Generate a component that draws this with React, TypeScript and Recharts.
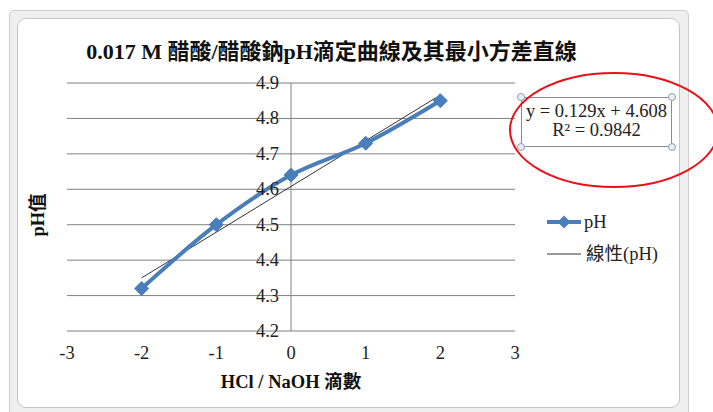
import React from 'react';
import { ComposedChart, Line, XAxis, YAxis, CartesianGrid, ReferenceLine } from 'recharts';

const drops = [-2, -1, 0, 1, 2];
const phValues = [4.32, 4.5, 4.64, 4.73, 4.85];
const trendX = [-2, 2];
const trendY = [4.35, 4.866];
const xTicks = [-3, -2, -1, 0, 1, 2, 3];
const yTicks = [4.2, 4.3, 4.4, 4.5, 4.6, 4.7, 4.8, 4.9];
const titleText = '0.017 M 醋酸/醋酸鈉pH滴定曲線及其最小方差直線';
const xLabel = 'HCl / NaOH 滴數';
const yLabel = 'pH值';
const seriesName = 'pH';
const trendName = '線性(pH)';
const equationLine1 = 'y = 0.129x + 4.608';
const equationLine2 = 'R² = 0.9842';

const phData = drops.map((x, i) => ({ x, y: phValues[i] }));
const trendData = trendX.map((x, i) => ({ x, t: trendY[i] }));

const W = 713;
const H = 412;
const M = { top: 83, right: 198, bottom: 80, left: 66 };
const PLOT_LEFT = 67;
const PLOT_W = 448;
const zeroX = PLOT_LEFT + ((0 - xTicks[0]) / (xTicks[xTicks.length - 1] - xTicks[0])) * PLOT_W;

const FONT = '"Liberation Serif", "Times New Roman", "Noto Sans CJK TC", serif';
const BLUE = '#4A7EBB';

const Diamond = (props: any) => {
  const { cx, cy } = props;
  if (cx == null || cy == null) return null;
  const r = 7;
  return (
    <path
      d={`M${cx},${cy - r}L${cx + r},${cy}L${cx},${cy + r}L${cx - r},${cy}Z`}
      fill={BLUE}
      stroke={BLUE}
      strokeWidth={1}
    />
  );
};

const renderYTick = (props: any) => {
  const { y, payload } = props;
  return (
    <text x={zeroX - 12} y={y} textAnchor="end" dominantBaseline="central" fontSize={18.5} fontFamily={FONT} fill="#222">
      {Number(payload.value).toFixed(1)}
    </text>
  );
};

const renderXTick = (props: any) => {
  const { x, payload } = props;
  return (
    <text x={x} y={353} textAnchor="middle" dominantBaseline="central" fontSize={18.5} fontFamily={FONT} fill="#222">
      {payload.value}
    </text>
  );
};

export default function App() {
  return (
    <div style={{ position: 'fixed', left: 0, top: 0, width: W, height: H, background: '#fff', overflow: 'hidden', fontFamily: FONT }}>
      <div style={{ position: 'absolute', left: 9, top: 10, width: 680, height: 420, background: '#efefef', border: '1px solid #cfcfcf', borderRadius: 5, boxSizing: 'border-box' }} />
      <div style={{ position: 'absolute', left: 17, top: 18, width: 663, height: 390, background: '#fff', border: '1px solid #c4c4c4', borderRadius: 9, boxSizing: 'border-box' }} />
      <div style={{ position: 'absolute', left: 0, top: 40, width: W, textAlign: 'center', paddingRight: 50, boxSizing: 'border-box', fontSize: 22, fontWeight: 'bold', color: '#111', lineHeight: '24px', whiteSpace: 'nowrap' }}>
        {titleText}
      </div>
      <div style={{ position: 'absolute', left: 0, top: 0 }}>
        <ComposedChart width={W} height={H} margin={M}>
          <CartesianGrid vertical={false} stroke="#808080" strokeWidth={1} />
          <XAxis
            type="number"
            dataKey="x"
            domain={[xTicks[0], xTicks[xTicks.length - 1]]}
            ticks={xTicks}
            axisLine={false}
            tickLine={false}
            height={1}
            tick={renderXTick}
            interval={0}
            allowDuplicatedCategory={false}
          />
          <YAxis
            type="number"
            domain={[yTicks[0], yTicks[yTicks.length - 1]]}
            ticks={yTicks}
            axisLine={false}
            tickLine={false}
            width={1}
            interval={0}
            tick={renderYTick}
          />
          <ReferenceLine x={0} stroke="#808080" strokeWidth={1} />
          <Line
            data={trendData}
            dataKey="t"
            type="linear"
            stroke="#333"
            strokeWidth={1}
            dot={false}
            activeDot={false}
            isAnimationActive={false}
            name={trendName}
          />
          <Line
            data={phData}
            dataKey="y"
            type="monotone"
            stroke={BLUE}
            strokeWidth={4}
            dot={<Diamond />}
            activeDot={false}
            isAnimationActive={false}
            name={seriesName}
          />
        </ComposedChart>
      </div>
      <div style={{ position: 'absolute', left: 546, top: 206, fontSize: 18.5, color: '#222', lineHeight: '32px' }}>
        <div style={{ display: 'flex', alignItems: 'center' }}>
          <svg width={36} height={16}>
            <line x1={1} y1={8} x2={35} y2={8} stroke={BLUE} strokeWidth={4} />
            <path d="M18,1.5L24.5,8L18,14.5L11.5,8Z" fill={BLUE} />
          </svg>
          <span style={{ marginLeft: 2 }}>{seriesName}</span>
        </div>
        <div style={{ display: 'flex', alignItems: 'center' }}>
          <svg width={36} height={16}>
            <line x1={1} y1={8} x2={35} y2={8} stroke="#333" strokeWidth={1} />
          </svg>
          <span style={{ marginLeft: 4 }}>{trendName}</span>
        </div>
      </div>
      <div style={{ position: 'absolute', left: 36, top: 215, transform: 'translate(-50%, -50%) rotate(-90deg)', fontSize: 18.5, fontWeight: 'bold', color: '#111', whiteSpace: 'nowrap' }}>
        {yLabel}
      </div>
      <div style={{ position: 'absolute', left: 291, top: 380, transform: 'translate(-50%, -50%)', fontSize: 18.5, fontWeight: 'bold', color: '#111', whiteSpace: 'nowrap' }}>
        {xLabel}
      </div>
      <div style={{ position: 'absolute', left: 521, top: 97, width: 151, height: 50, border: '1px solid #8c8c8c', boxSizing: 'border-box', textAlign: 'center', fontSize: 18.5, lineHeight: '19px', paddingTop: 4, color: '#222', whiteSpace: 'nowrap' }}>
        <div>{equationLine1}</div>
        <div>{equationLine2}</div>
      </div>
      <svg width={W} height={H} style={{ position: 'absolute', left: 0, top: 0, pointerEvents: 'none' }}>
        {[[521, 97], [672, 97], [521, 147], [672, 147]].map(([cx, cy], i) => (
          <circle key={i} cx={cx} cy={cy} r={3.5} fill="#e8eef4" stroke="#8aa0b4" strokeWidth={1} />
        ))}
        <ellipse cx={614} cy={130} rx={104} ry={57} fill="none" stroke="#e8111a" strokeWidth={2} />
      </svg>
    </div>
  );
}
